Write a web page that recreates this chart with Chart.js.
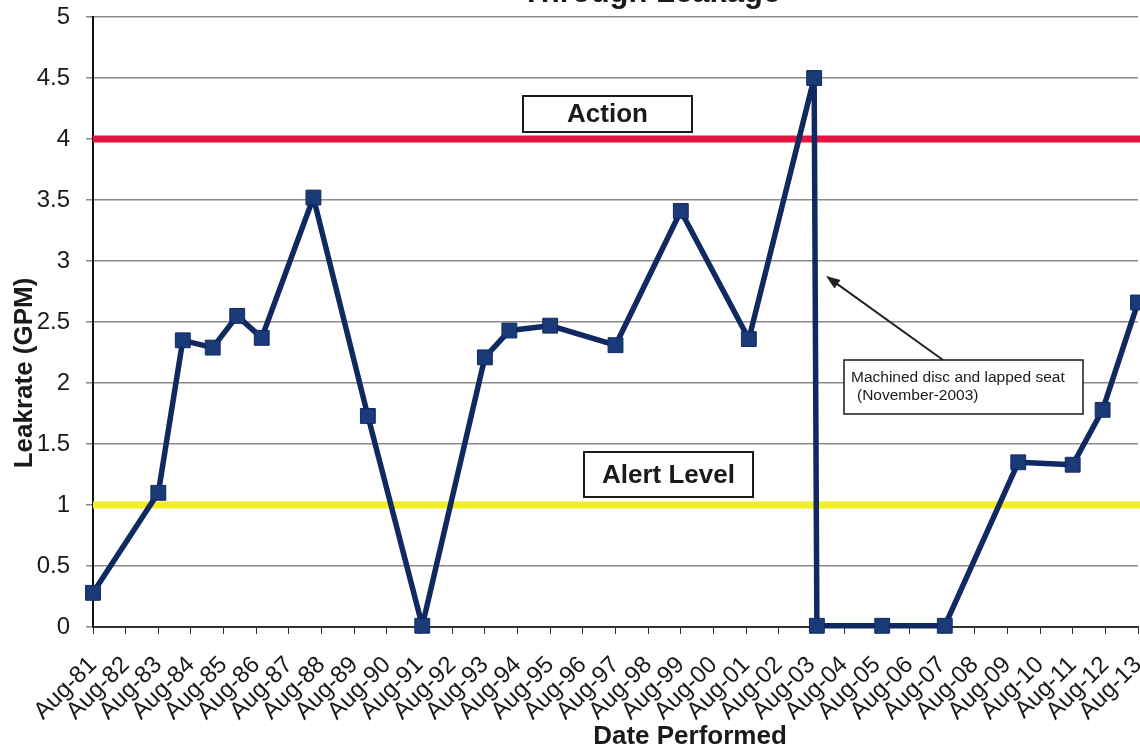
<!DOCTYPE html>
<html>
<head>
<meta charset="utf-8">
<script src="https://cdn.jsdelivr.net/npm/chart.js@4.4.1/dist/chart.umd.min.js"></script>
<style>
  html, body { margin: 0; padding: 0; background: #fff; }
  #wrap { width: 1140px; height: 751px; position: relative; }
</style>
</head>
<body>
<div id="wrap"><canvas id="leakChart"></canvas></div>
<script>
// Test dates (year-month) and measured leakrate in GPM
const testDates = [
  "1981-08", "1983-08", "1984-05", "1985-04", "1986-01", "1986-10",
  "1988-05", "1990-01", "1991-09", "1993-08", "1994-05", "1995-08",
  "1997-08", "1999-08", "2001-09", "2003-09", "2003-10", "2005-10",
  "2007-09", "2009-12", "2011-08", "2012-07", "2013-08",
];
const leakrate = [
  0.28, 1.1, 2.35, 2.29, 2.55, 2.37,
  3.52, 1.73, 0.01, 2.21, 2.43, 2.47,
  2.31, 3.41, 2.36, 4.5, 0.01, 0.01,
  0.01, 1.35, 1.33, 1.78, 2.66,
];
const tickLabels = [
  "Aug-81", "Aug-82", "Aug-83", "Aug-84", "Aug-85", "Aug-86", "Aug-87",
  "Aug-88", "Aug-89", "Aug-90", "Aug-91", "Aug-92", "Aug-93", "Aug-94",
  "Aug-95", "Aug-96", "Aug-97", "Aug-98", "Aug-99", "Aug-00", "Aug-01",
  "Aug-02", "Aug-03", "Aug-04", "Aug-05", "Aug-06", "Aug-07", "Aug-08",
  "Aug-09", "Aug-10", "Aug-11", "Aug-12", "Aug-13",
];
const actionLevel = 4;
const alertLevel = 1;

// "1984-05" -> decimal year
function toYear(s) {
  const [y, m] = s.split("-").map(Number);
  return y + (m - 1) / 12;
}
const tickValues = tickLabels.map((_, i) => toYear("1981-08") + i);
const points = testDates.map((d, i) => ({ x: toYear(d), y: leakrate[i] }));

const FONT = "'Liberation Sans', Arial, sans-serif";

// limit lines, label boxes, note and axis titles
const extras = {
  id: "extras",
  beforeDatasetsDraw(chart) {
    const { ctx, chartArea, scales } = chart;
    const y = scales.y;
    ctx.save();
    ctx.lineWidth = 7;
    ctx.strokeStyle = "#e2173f";
    ctx.beginPath();
    ctx.moveTo(chartArea.left, y.getPixelForValue(actionLevel));
    ctx.lineTo(chart.width, y.getPixelForValue(actionLevel));
    ctx.stroke();
    ctx.strokeStyle = "#f2ee22";
    ctx.beginPath();
    ctx.moveTo(chartArea.left, y.getPixelForValue(alertLevel));
    ctx.lineTo(chart.width, y.getPixelForValue(alertLevel));
    ctx.stroke();
    ctx.restore();
  },
  afterDraw(chart) {
    const { ctx } = chart;
    ctx.save();
    ctx.fillStyle = "#1a1a1a";
    ctx.textAlign = "center";
    ctx.textBaseline = "alphabetic";

    // cut-off title
    ctx.font = "bold 31px " + FONT;
    ctx.fillText("Through Leakage", 651, 2);

    // boxed labels
    function box(x, y, w, h, text) {
      ctx.fillStyle = "#fff";
      ctx.fillRect(x, y, w, h);
      ctx.lineWidth = 2;
      ctx.strokeStyle = "#1a1a1a";
      ctx.strokeRect(x, y, w, h);
      ctx.fillStyle = "#1a1a1a";
      ctx.font = "bold 26px " + FONT;
      ctx.textBaseline = "middle";
      ctx.fillText(text, x + w / 2, y + h / 2 + 1);
    }
    box(523, 96, 169, 36, "Action");
    box(584, 452, 169, 45, "Alert Level");

    // note arrow
    ctx.strokeStyle = "#222";
    ctx.fillStyle = "#222";
    ctx.lineWidth = 2;
    const x0 = 943, y0 = 360, x1 = 826, y1 = 276;
    const ang = Math.atan2(y1 - y0, x1 - x0);
    ctx.beginPath();
    ctx.moveTo(x0, y0);
    ctx.lineTo(x1 - 8 * Math.cos(ang), y1 - 8 * Math.sin(ang));
    ctx.stroke();
    ctx.beginPath();
    ctx.moveTo(x1, y1);
    ctx.lineTo(x1 - 15 * Math.cos(ang - 0.35), y1 - 15 * Math.sin(ang - 0.35));
    ctx.lineTo(x1 - 15 * Math.cos(ang + 0.35), y1 - 15 * Math.sin(ang + 0.35));
    ctx.closePath();
    ctx.fill();

    // note box
    ctx.fillStyle = "#fff";
    ctx.fillRect(844, 360, 239, 54);
    ctx.lineWidth = 1.5;
    ctx.strokeStyle = "#1a1a1a";
    ctx.strokeRect(844, 360, 239, 54);
    ctx.fillStyle = "#1a1a1a";
    ctx.font = "15.5px " + FONT;
    ctx.textAlign = "left";
    ctx.textBaseline = "middle";
    ctx.fillText("Machined disc and lapped seat", 851, 378);
    ctx.fillText("(November-2003)", 857, 396);

    // axis titles
    ctx.textAlign = "center";
    ctx.textBaseline = "alphabetic";
    ctx.font = "bold 26px " + FONT;
    ctx.fillText("Date Performed", 690, 744);
    ctx.save();
    ctx.translate(32, 373);
    ctx.rotate(-Math.PI / 2);
    ctx.fillText("Leakrate (GPM)", 0, 0);
    ctx.restore();

    ctx.restore();
  },
};

const leakChart = new Chart(document.getElementById("leakChart").getContext("2d"), {
  type: "line",
  data: {
    datasets: [
      {
        label: "Leakrate",
        data: points,
        borderColor: "#102960",
        borderWidth: 5.5,
        borderJoinStyle: "round",
        backgroundColor: "#1b3a78",
        pointStyle: "rect",
        pointRadius: 10.5,
        pointBorderColor: "#102960",
        pointBorderWidth: 1,
        tension: 0,
        clip: false,
      },
    ],
  },
  options: {
    responsive: true,
    maintainAspectRatio: false,
    animation: false,
    layout: {
      autoPadding: false,
      padding: { top: 17, right: 2, left: 0, bottom: 0 },
    },
    scales: {
      x: {
        type: "linear",
        min: tickValues[0],
        max: tickValues[tickValues.length - 1],
        afterBuildTicks(scale) {
          scale.ticks = tickValues.map((v) => ({ value: v }));
        },
        afterFit(scale) {
          scale.height = 124;
          scale.paddingLeft = 0;
          scale.paddingRight = 0;
        },
        border: { color: "#333", width: 2 },
        grid: {
          drawOnChartArea: false,
          drawTicks: true,
          tickLength: 7,
          color: "#333",
          lineWidth: 1,
        },
        ticks: {
          autoSkip: false,
          minRotation: 45,
          maxRotation: 45,
          padding: 17,
          color: "#1a1a1a",
          font: { family: FONT, size: 24 },
          callback: (v, i) => tickLabels[i],
        },
      },
      y: {
        min: 0,
        max: 5,
        afterFit(scale) {
          scale.width = 93;
          scale.paddingTop = 0;
          scale.paddingBottom = 0;
        },
        border: { color: "#111", width: 2 },
        grid: {
          color: "#8a8a8a",
          lineWidth: 1.5,
          tickLength: 7,
        },
        ticks: {
          stepSize: 0.5,
          padding: 16,
          color: "#1a1a1a",
          font: { family: FONT, size: 24 },
          callback: (v) => String(v),
        },
      },
    },
    plugins: {
      legend: { display: false },
      tooltip: { enabled: false },
    },
  },
  plugins: [extras],
});
</script>
</body>
</html>
